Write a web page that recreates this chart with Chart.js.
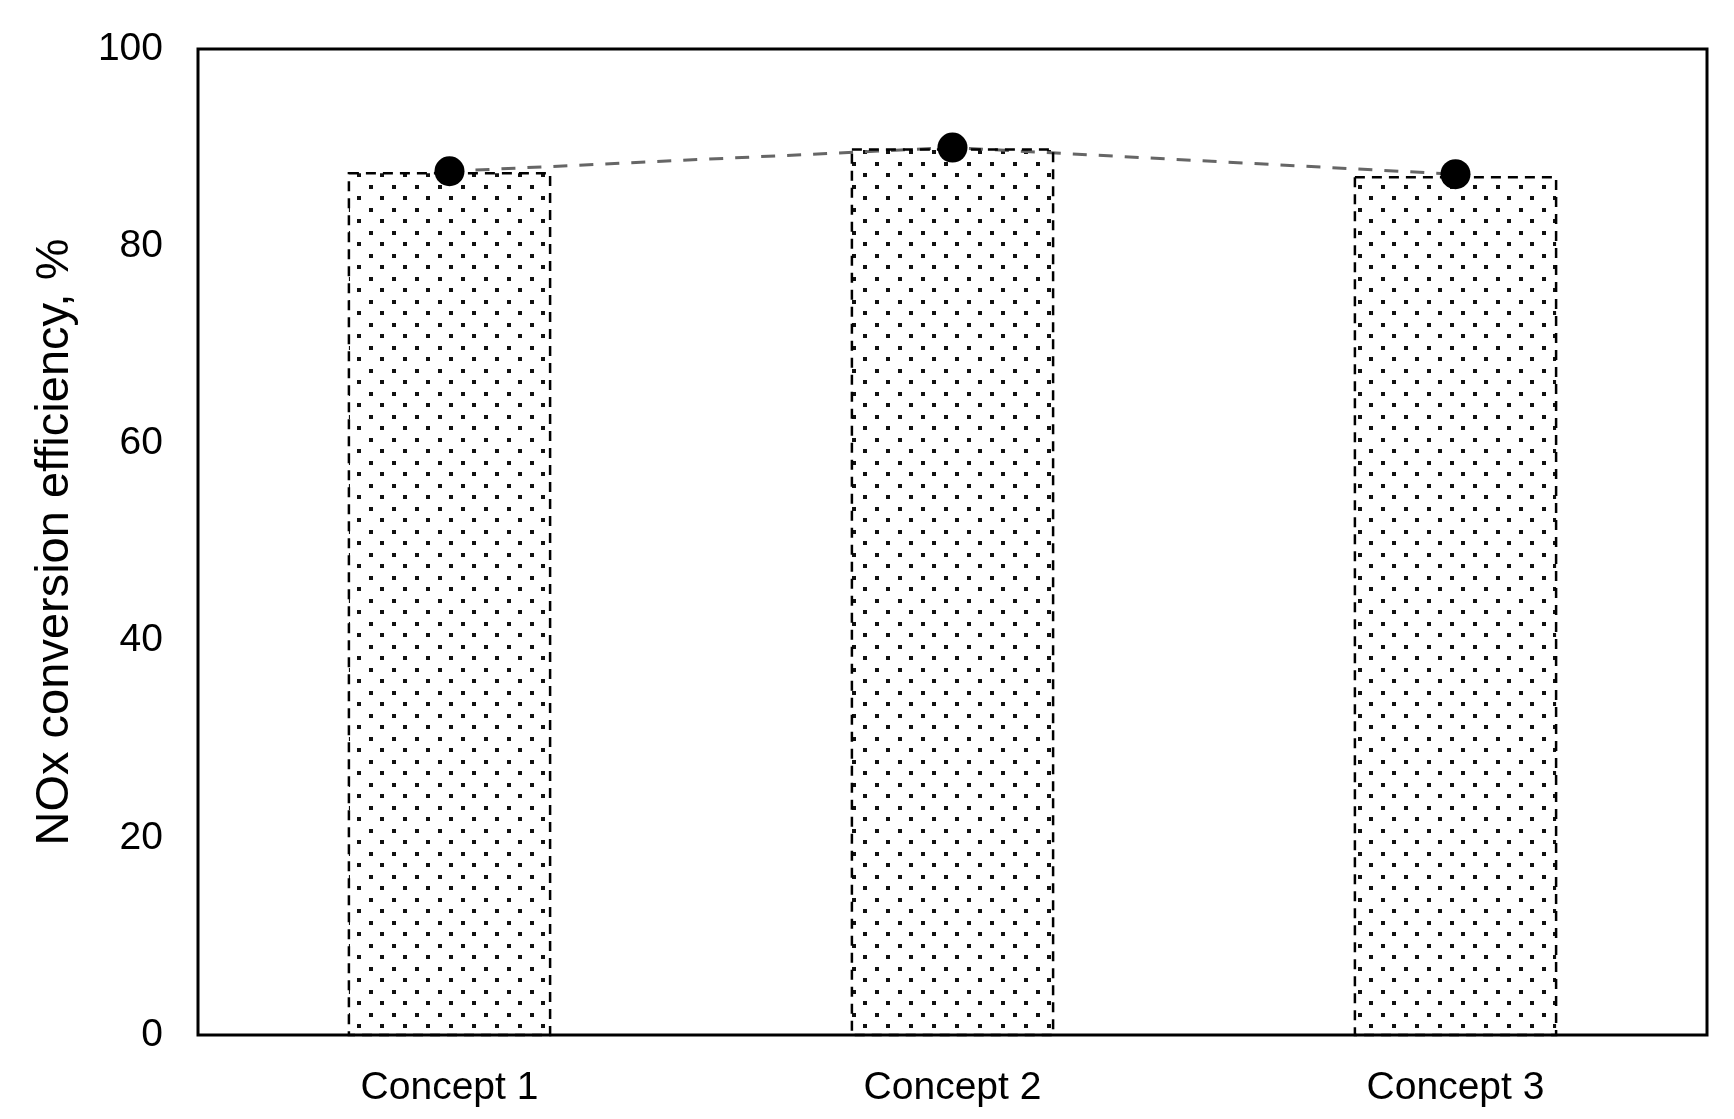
<!DOCTYPE html>
<html>
<head>
<meta charset="utf-8">
<script src="https://cdn.jsdelivr.net/npm/chart.js@4"></script>
<style>
  html, body { margin: 0; padding: 0; background: #fff; }
  #wrap { width: 1734px; height: 1119px; }
</style>
</head>
<body>
<div id="wrap"><canvas id="myChart" width="1734" height="1119"></canvas></div>
<script>
'use strict';

// chart data
let concepts = ['Concept 1', 'Concept 2', 'Concept 3'];
let barValues = [87.4, 89.8, 87.0];
let pointValues = [87.6, 90.0, 87.3];
let yTicks = [0, 20, 40, 60, 80, 100];

// dotted fill for the bars
function makeDots() {
  let c = document.createElement('canvas');
  c.width = 23;
  c.height = 23;
  let g = c.getContext('2d');
  g.fillStyle = '#fff';
  g.fillRect(0, 0, 23, 23);
  g.fillStyle = '#111';
  g.fillRect(1, 1, 4, 4);
  g.fillRect(12, 12, 4, 4);
  return g.createPattern(c, 'repeat');
}

// dashed outlines of bars + frame round the plot
let framePlugin = {
  id: 'frame',
  afterDatasetsDraw(chart) {
    let ctx = chart.ctx;
    let meta = chart.getDatasetMeta(1);
    ctx.save();
    ctx.strokeStyle = '#000';
    ctx.lineWidth = 2.5;
    ctx.setLineDash([10, 7]);
    meta.data.forEach(function (bar) {
      let p = bar.getProps(['x', 'y', 'base', 'width'], true);
      ctx.strokeRect(p.x - p.width / 2, p.y, p.width, p.base - p.y);
    });
    ctx.restore();
  },
  afterDraw(chart) {
    let a = chart.chartArea;
    let ctx = chart.ctx;
    ctx.save();
    ctx.strokeStyle = '#000';
    ctx.lineWidth = 3;
    ctx.strokeRect(a.left, a.top, a.right - a.left, a.bottom - a.top);
    ctx.restore();
  }
};

let config = {
  data: {
    labels: concepts,
    datasets: [{
      type: 'line',
      data: pointValues,
      borderColor: '#666',
      borderWidth: 3,
      borderDash: [14, 12],
      pointRadius: 15,
      pointBackgroundColor: '#000',
      pointBorderColor: '#000',
      pointBorderWidth: 0,
      order: 0
    },
    {
      type: 'bar',
      data: barValues,
      backgroundColor: makeDots(),
      borderWidth: 0,
      categoryPercentage: 1,
      barPercentage: 0.4,
      order: 1
    }]
  },
  options: {
    responsive: false,
    animation: false,
    layout: {
      padding: { top: 49, right: 27, left: 0, bottom: 0 }
    },
    plugins: {
      legend: { display: false },
      tooltip: { enabled: false }
    },
    scales: {
      x: {
        grid: { display: false, drawTicks: false },
        border: { display: false },
        ticks: {
          color: '#000',
          padding: 30,
          font: { family: 'Liberation Sans, Arial, sans-serif', size: 39 }
        },
        afterFit(scale) {
          scale.height = 1119 - 1035;
        }
      },
      y: {
        min: 0,
        max: 100,
        afterBuildTicks(scale) {
          scale.ticks = yTicks.map(v => ({ value: v }));
        },
        grid: { display: false, drawTicks: false },
        border: { display: false },
        ticks: {
          color: '#000',
          padding: 35,
          // small lineHeight only so the labels don't push the plot down
          font: { family: 'Liberation Sans, Arial, sans-serif', size: 39, lineHeight: 0.3 }
        },
        title: {
          display: true,
          text: 'NOx conversion efficiency, %',
          color: '#000',
          padding: { top: 27, bottom: 0 },
          font: { family: 'Liberation Sans, Arial, sans-serif', size: 47, weight: 'normal' }
        },
        afterFit(scale) {
          scale.width = 198;
        }
      }
    }
  },
  plugins: [framePlugin]
};

const ctx = document.getElementById('myChart').getContext('2d');
const myChart = new Chart(ctx, config);
</script>
</body>
</html>
